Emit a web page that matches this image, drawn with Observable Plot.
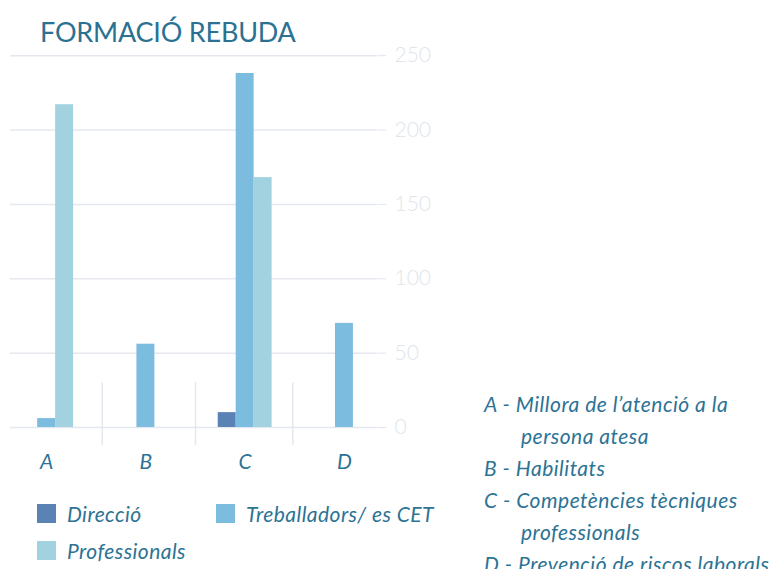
<!DOCTYPE html>
<html><head><meta charset="utf-8">
<script src="https://cdn.jsdelivr.net/npm/d3@7"></script>
<script src="https://cdn.jsdelivr.net/npm/@observablehq/plot@0.6"></script>
<style>
html,body{margin:0;padding:0;background:#fff;overflow:hidden;width:776px;height:569px;}
#wrap{position:relative;width:776px;height:569px;font-family:Lato,"Open Sans",sans-serif;color:#2c7394;overflow:hidden;}
#chart{position:absolute;left:0;top:0;}
#chart svg{overflow:visible;}
#title{position:absolute;left:40px;top:18px;font-size:27px;line-height:27px;font-weight:400;letter-spacing:-0.2px;white-space:nowrap;color:#2b7192;}
.sw{position:absolute;width:19px;height:19px;}
.lt{position:absolute;font-size:21px;line-height:21px;font-style:italic;letter-spacing:0.45px;white-space:nowrap;}
#notes{position:absolute;left:484px;top:388px;font-size:21px;line-height:32px;font-style:italic;letter-spacing:0.5px;white-space:nowrap;}
#notes .ind{padding-left:37px;}
</style>
</head><body>
<div id="wrap">
  <div id="chart"></div>
  <div id="title"></div>
  <div id="legend"></div>
  <div id="notes"></div>
</div>
<script>
const titleText = "FORMACIÓ REBUDA";
const categories = ["A", "B", "C", "D"];
const series = ["Direcció", "Treballadors/ es CET", "Professionals"];
const direccio = [0, 0, 10, 0];
const treballadors = [6, 56, 238, 70];
const professionals = [217, 0, 168, 0];
const colors = ["#5a82b5", "#7cbcdf", "#a2d2df"];
const yTicks = [0, 50, 100, 150, 200, 250];
const notes = [
  ["A - Millora de l’atenció a la", "persona atesa"],
  ["B - Habilitats"],
  ["C - Competències tècniques", "professionals"],
  ["D - Prevenció de riscos laborals"]
];

const values = [direccio, treballadors, professionals];
const rows = [];
values.forEach((vals, k) => vals.forEach((v, i) => {
  if (v > 0) rows.push({cat: i, k, series: series[k], value: v});
}));

const W = 0.181; // bar width in category units
const grid = "#e4e8ee";

const chart = Plot.plot({
  width: 776,
  height: 480,
  marginLeft: 10,
  marginRight: 399,
  marginTop: 15,
  marginBottom: 53,
  x: {domain: [-0.364, 3.333]},
  y: {domain: [0, 277]},
  color: {domain: series, range: colors},
  style: {fontFamily: "Lato, 'Open Sans', sans-serif", background: "transparent"},
  marks: [
    Plot.gridY(yTicks, {stroke: grid, strokeOpacity: 1, strokeWidth: 1.5}),
    Plot.ruleX([0.56, 1.5, 2.48], {y1: -12, y2: 30, stroke: grid, strokeWidth: 1.5}),
    Plot.rectY(rows, {
      x1: d => d.cat + (d.k - 1.5) * W,
      x2: d => d.cat + (d.k - 0.5) * W,
      y1: 0, y2: "value", fill: "series", inset: 0
    }),
    Plot.axisY(yTicks, {anchor: "right", tickSize: 8, tickPadding: 9, fontSize: 21, color: "#e0e5ec", line: true, label: null}),
    Plot.axisX([0, 1, 2, 3], {tickFormat: i => categories[i], tickSize: 0, tickPadding: 27, fontSize: 21, color: "#2c7394", label: null})
  ]
});
document.getElementById("chart").appendChild(chart);
chart.querySelectorAll('[aria-label="x-axis tick label"] text').forEach(t => t.setAttribute("font-style", "italic"));
chart.querySelectorAll('[aria-label="y-axis tick label"] text').forEach(t => t.setAttribute("font-weight", "300"));

document.getElementById("title").textContent = titleText;

const legendPos = [[37, 504], [216, 504], [37, 541]];
const legend = document.getElementById("legend");
series.forEach((s, k) => {
  const [lx, ly] = legendPos[k];
  const sw = document.createElement("div");
  sw.className = "sw";
  sw.style.left = lx + "px"; sw.style.top = ly + "px"; sw.style.background = colors[k];
  legend.appendChild(sw);
  const t = document.createElement("div");
  t.className = "lt";
  t.style.left = (lx + 30) + "px"; t.style.top = (ly - 1) + "px";
  t.textContent = s;
  legend.appendChild(t);
});

const notesEl = document.getElementById("notes");
notes.forEach(lines => lines.forEach((line, j) => {
  const d = document.createElement("div");
  if (j > 0) d.className = "ind";
  d.textContent = line;
  notesEl.appendChild(d);
}));
</script>
</body></html>
